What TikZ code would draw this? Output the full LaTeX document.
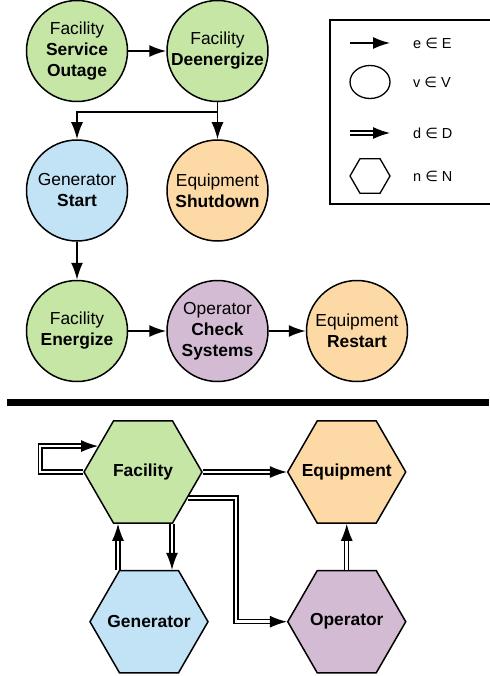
\documentclass[tikz,border=0pt]{standalone}
\usepackage{fontspec}
\setmainfont{Liberation Sans}
\newfontfamily\symfont{DejaVu Sans}
\usetikzlibrary{shapes.geometric,arrows.meta,positioning,calc}

\definecolor{facgreen}{HTML}{C6E6A6}
\definecolor{genblue}{HTML}{C2E2F5}
\definecolor{equiporange}{HTML}{FDD9A6}
\definecolor{operpurple}{HTML}{D3BCD3}

\begin{document}
\begin{tikzpicture}[
    x=1pt, y=1pt,
    node distance=38pt and 38pt,
    event/.style={circle, draw, line width=1.5pt, minimum size=101pt, inner sep=0pt, align=center, font=\fontsize{17.4}{21}\selectfont},
    agent/.style={regular polygon, regular polygon sides=6, draw, line width=1.5pt, minimum size=118pt, inner sep=0pt},
    agentlabel/.style={inner sep=0pt, font=\fontsize{17.4}{21}\selectfont\bfseries},
    legendtext/.style={anchor=west, inner sep=0pt, font=\fontsize{14.5}{17}\selectfont},
    edge/.style={-{Latex[length=17pt,width=12pt]}, line width=1.8pt},
    dep/.style={-{Latex[length=17pt,width=12pt]}, double, double distance=2.6pt, line width=1.3pt}
]
\useasboundingbox (0,0) rectangle (489,-676);

% ============ EVENTS ============
\node[event, fill=facgreen] (outage) at (77,-51) {Facility\\\textbf{Service}\\\textbf{Outage}};
\node[event, fill=facgreen, right=of outage] (deenergize) {Facility\\\textbf{Deenergize}};
\node[event, fill=genblue, below=37pt of outage] (start) {Generator\\\textbf{Start}};
\node[event, fill=equiporange, right=of start] (shutdown) {Equipment\\\textbf{Shutdown}};
\node[event, fill=facgreen, below=of start] (energize) {Facility\\\textbf{Energize}};
\node[event, fill=operpurple, right=of energize] (check) {Operator\\\textbf{Check}\\\textbf{Systems}};
\node[event, fill=equiporange, right=37pt of check] (restart) {Equipment\\\textbf{Restart}};

% event edges
\draw[edge] (outage) -- (deenergize);
\draw[edge] (deenergize.south) -- ++(0,-10) -| (start.north);
\draw[edge] (deenergize.south) -- (shutdown.north);
\draw[edge] (start) -- (energize);
\draw[edge] (energize) -- (check);
\draw[edge] (check) -- (restart);

% ============ LEGEND ============
\draw[line width=1.5pt] (330,-20) rectangle (491,-204);
\coordinate (leg-a) at (350,-43);
\coordinate (leg-b) at (390,-43);
\coordinate (leg-c) at (350,-133);
\coordinate (leg-d) at (390,-133);
\draw[edge, line width=1.5pt] (leg-a) -- (leg-b);
\node[ellipse, draw, line width=1.3pt, minimum width=40pt, minimum height=33pt, inner sep=0pt] (leg-circle) at (370,-82) {};
\draw[dep] (leg-c) -- (leg-d);
\node[regular polygon, regular polygon sides=6, draw, line width=1.3pt, minimum size=40pt, inner sep=0pt] (leg-hex) at (370,-176) {};
\node[legendtext] (leg-e) at (413,-43) {e {\symfont∈} E};
\node[legendtext] (leg-v) at (413,-82) {v {\symfont∈} V};
\node[legendtext] (leg-d) at (413,-133) {d {\symfont∈} D};
\node[legendtext] (leg-n) at (413,-176) {n {\symfont∈} N};

% ============ SEPARATOR ============
\coordinate (sep-l) at (7,-402);
\coordinate (sep-r) at (489,-402);
\draw[line width=7pt] (sep-l) -- (sep-r);

% ============ AGENTS ============
\node[agent, fill=facgreen, label={[agentlabel]center:Facility}] (facility) at (143,-472) {};
\node[agent, fill=equiporange, right=84pt of facility, label={[agentlabel]center:Equipment}] (equipment) {};
\node[agent, fill=genblue, below=46pt of facility, xshift=6pt, label={[agentlabel]center:Generator}] (generator) {};
\node[agent, fill=operpurple, below=46pt of equipment, label={[agentlabel]center:Operator}] (operator) {};

% agent dependencies
\draw[dep] (facility.west) -- ++(-43,0) |- (facility.150);
\draw[dep] (facility.east) -- (equipment.west);
\draw[dep] (facility.-30) -- ++(48,0) |- (operator.west);
\draw[dep] ([xshift=29pt]facility.south) -- ([xshift=29pt]facility.south |- generator.north);
\draw[dep] ([xshift=-25pt]facility.south |- generator.north) -- ([xshift=-25pt]facility.south);
\draw[dep] (operator.north) -- (equipment.south);

\end{tikzpicture}
\end{document}
